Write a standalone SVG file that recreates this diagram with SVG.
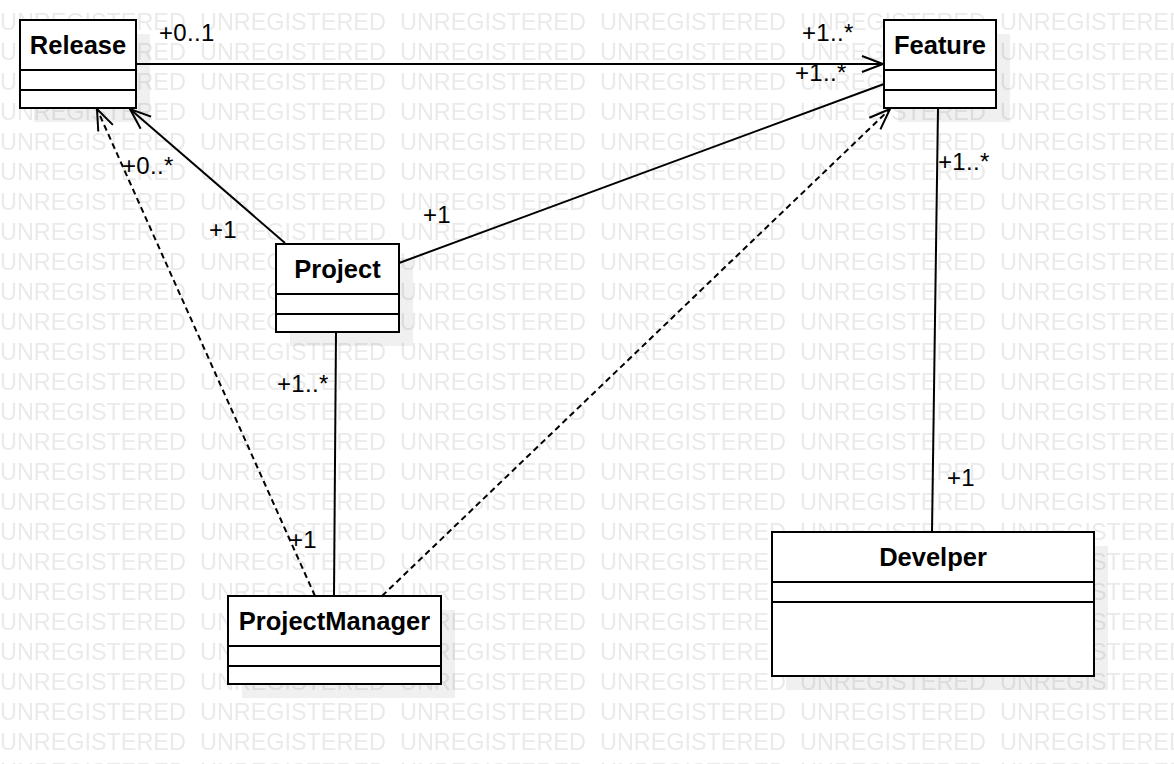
<svg xmlns="http://www.w3.org/2000/svg" width="1174" height="764" viewBox="0 0 1174 764">
<style>
.wm{font-family:"Liberation Sans",Arial,sans-serif;font-size:23.4px;fill:#eaeaea}
.shadow{fill:#000;fill-opacity:0.06;stroke:none}
.box{fill:#fff;stroke:#000;stroke-width:2}
.div{stroke:#000;stroke-width:2}
.name{font-family:"Liberation Sans",Arial,sans-serif;font-size:25.5px;font-weight:bold;fill:#000;text-anchor:middle}
.edge{fill:none;stroke:#000;stroke-width:2}
.dash{stroke-dasharray:6 4}
.lbl{font-family:"Liberation Sans",Arial,sans-serif;font-size:24px;letter-spacing:0.3px;fill:#000}
</style>
<defs>
<pattern id="wmp" patternUnits="userSpaceOnUse" x="0" y="0" width="200" height="30">
<text class="wm" x="0" y="30">UNREGISTERED</text>
</pattern>
<marker id="open" markerUnits="userSpaceOnUse" markerWidth="30" markerHeight="24" viewBox="-25 -12 30 24" refX="0" refY="0" orient="auto" overflow="visible">
<path d="M-21,-8 L0,0 L-21,8" fill="none" stroke="#000" stroke-width="2" stroke-dasharray="none"/>
</marker>
</defs>
<rect width="1174" height="764" fill="#fff"/>
<g id="watermark">
<rect x="0" y="0" width="1174" height="764" fill="url(#wmp)"/>
</g>
<g id="shadows">
<rect class="shadow" x="34" y="34" width="116" height="88"/>
<rect class="shadow" x="898" y="34" width="112" height="88"/>
<rect class="shadow" x="290" y="258" width="123" height="88"/>
<rect class="shadow" x="242" y="610" width="213" height="88"/>
<rect class="shadow" x="786" y="546" width="322" height="144"/>
</g>
<g id="connectors">
<line class="edge" x1="137" y1="64" x2="883" y2="64" marker-end="url(#open)"/>
<line class="edge" x1="285" y1="243" x2="130" y2="109" marker-end="url(#open)"/>
<line class="edge" x1="399" y1="263" x2="884" y2="84"/>
<line class="edge" x1="336" y1="332" x2="334" y2="596"/>
<line class="edge dash" x1="315" y1="596" x2="97" y2="109" marker-end="url(#open)"/>
<line class="edge dash" x1="382" y1="596" x2="890" y2="109" marker-end="url(#open)"/>
<line class="edge" x1="938" y1="108" x2="932" y2="532"/>
<text class="lbl" x="159" y="41">+0..1</text>
<text class="lbl" x="802" y="41">+1..*</text>
<text class="lbl" x="795" y="81">+1..*</text>
<text class="lbl" x="122" y="174">+0..*</text>
<text class="lbl" x="209" y="238">+1</text>
<text class="lbl" x="423" y="223">+1</text>
<text class="lbl" x="277" y="392">+1..*</text>
<text class="lbl" x="289" y="548">+1</text>
<text class="lbl" x="938" y="170">+1..*</text>
<text class="lbl" x="947" y="486">+1</text>
</g>
<g id="node-release">
<rect class="box" x="20" y="20" width="116" height="88"/>
<line class="div" x1="20" y1="70" x2="136" y2="70"/>
<line class="div" x1="20" y1="90" x2="136" y2="90"/>
<text class="name" x="78" y="54">Release</text>
</g>
<g id="node-feature">
<rect class="box" x="884" y="20" width="112" height="88"/>
<line class="div" x1="884" y1="70" x2="996" y2="70"/>
<line class="div" x1="884" y1="90" x2="996" y2="90"/>
<text class="name" x="940" y="54">Feature</text>
</g>
<g id="node-project">
<rect class="box" x="276" y="244" width="123" height="88"/>
<line class="div" x1="276" y1="294" x2="399" y2="294"/>
<line class="div" x1="276" y1="314" x2="399" y2="314"/>
<text class="name" x="337.5" y="278">Project</text>
</g>
<g id="node-projectmanager">
<rect class="box" x="228" y="596" width="213" height="88"/>
<line class="div" x1="228" y1="646" x2="441" y2="646"/>
<line class="div" x1="228" y1="666" x2="441" y2="666"/>
<text class="name" x="334.5" y="630">ProjectManager</text>
</g>
<g id="node-develper">
<rect class="box" x="772" y="532" width="322" height="144"/>
<line class="div" x1="772" y1="582" x2="1094" y2="582"/>
<line class="div" x1="772" y1="602" x2="1094" y2="602"/>
<text class="name" x="933" y="566">Develper</text>
</g>
</svg>
